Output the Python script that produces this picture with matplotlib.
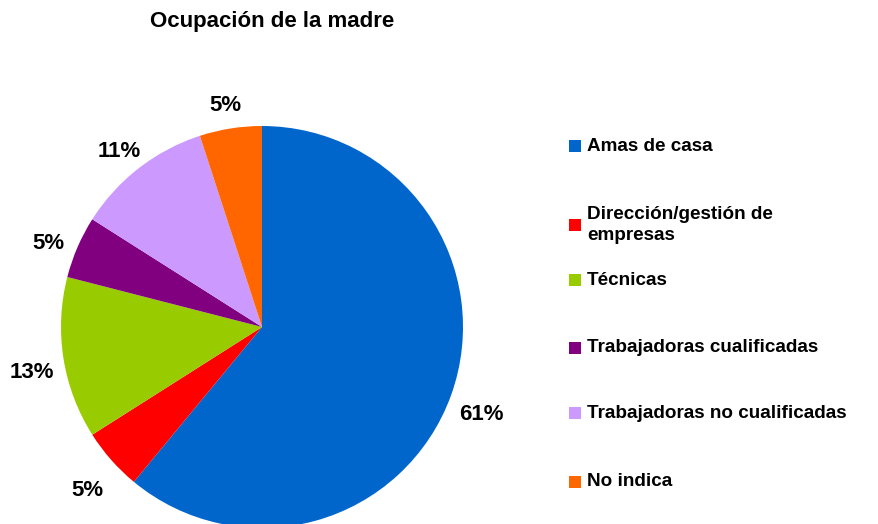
import matplotlib
matplotlib.use("Agg")
import matplotlib.pyplot as plt
from matplotlib.patches import Rectangle

categories = ["Amas de casa", "Dirección/gestión de\nempresas", "Técnicas",
              "Trabajadoras cualificadas", "Trabajadoras no cualificadas", "No indica"]
values = [61, 5, 13, 5, 11, 5]
colors = ["#0066CC", "#FF0000", "#99CC00", "#800080", "#CC99FF", "#FF6600"]
title = "Ocupación de la madre"

plt.rcParams['font.family'] = ['Liberation Sans', 'DejaVu Sans']

W, H = 879, 524
fig = plt.figure(figsize=(W / 100, H / 100), dpi=100)
ax = fig.add_axes([0, 0, 1, 1])

wedges, texts, autotexts = ax.pie(
    values, colors=colors, startangle=90, counterclock=False,
    center=(262, H - 327), radius=201, autopct='%1.0f%%', pctdistance=1.16,
    textprops=dict(fontsize=16, fontweight='bold', color='black'),
    wedgeprops=dict(linewidth=0), frame=True)
ax.set_xlim(0, W)
ax.set_ylim(0, H)
ax.set_aspect('equal')
ax.axis('off')
for t in autotexts:
    x, y = t.get_position()
    t.set_position((x, y - 9))

fig.text(272 / W, 1 - 22 / H, title, ha='center', va='center', fontsize=16, fontweight='bold')

legend_y = [146, 225, 280, 348, 413, 482]
for lab, col, y in zip(categories, colors, legend_y):
    ax.add_patch(Rectangle((569, H - y - 6), 12, 12, facecolor=col, edgecolor='none'))
    ax.text(587, H - y, lab, ha='left', va='center', fontsize=13.6, fontweight='bold',
            linespacing=1.25)

fig.savefig("out.png", dpi=100, facecolor='white')
